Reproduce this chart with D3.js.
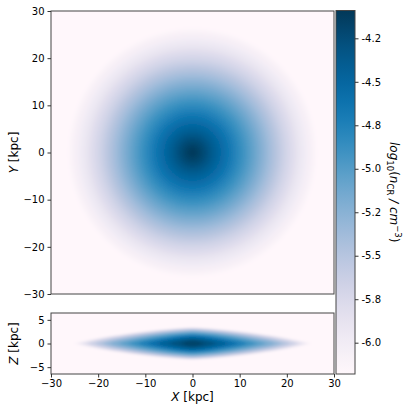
<!DOCTYPE html>
<html>
<head>
<meta charset="utf-8">
<script src="https://cdn.jsdelivr.net/npm/d3@7"></script>
<style>
body { margin: 0; background: #fff; }
svg text { font-family: "DejaVu Sans", sans-serif; fill: #000; }
</style>
</head>
<body>
<script>
// X-Y projection: log10 density read along the radius (kpc), outer to inner
var radiusKpc = [26, 25, 24, 23, 22, 21, 20, 19, 18, 17, 16, 15, 14, 13, 12, 11, 10, 9, 8, 7, 6, 5, 4, 3, 2, 1];
var logDensXY = [-6.10, -6.04, -5.97, -5.90, -5.82, -5.74, -5.66, -5.57, -5.48, -5.39, -5.30, -5.21, -5.12, -5.04, -4.96, -4.88, -4.80, -4.72, -4.64, -4.56, -4.48, -4.40, -4.32, -4.24, -4.17, -4.11];

// X-Z projection: nested iso-levels of the disk, half extents in kpc
var diskLevels = [-6.10, -5.95, -5.80, -5.65, -5.50, -5.35, -5.20, -5.05, -4.90, -4.75, -4.60, -4.45, -4.30, -4.18];
var diskHalfX  = [25.0, 24.0, 23.0, 22.0, 20.5, 19.0, 17.5, 15.5, 13.5, 11.5, 9.5, 7.5, 5.0, 2.5];
var diskHalfZ  = [3.5, 3.4, 3.3, 3.15, 3.0, 2.8, 2.6, 2.4, 2.15, 1.9, 1.65, 1.35, 1.0, 0.6];

var xTicks = [-30, -20, -10, 0, 10, 20, 30];
var yTicks = [-30, -20, -10, 0, 10, 20, 30];
var zTicks = [-5, 0, 5];
var cbTicks = [-6.0, -5.75, -5.5, -5.25, -5.0, -4.75, -4.5, -4.25];
var cbLabels = ["-6.0", "-5.8", "-5.5", "-5.2", "-5.0", "-4.8", "-4.5", "-4.2"];
var cMin = -6.18, cMax = -4.09;

var width = 407, height = 410;
var left = 51, right = 334;
var topY = 11, topB = 294;
var botY = 313, botB = 374;
var cb = {x0: 336, x1: 355, y0: 10.5, y1: 374};

var color = d3.scaleSequential(d3.interpolatePuBu).domain([cMin, cMax]);

var svg = d3.select("body").append("svg")
    .attr("width", width).attr("height", height);
var defs = svg.append("defs");

var x = d3.scaleLinear().domain([-30, 30]).range([left, right]);
var y = d3.scaleLinear().domain([-30, 30]).range([topB, topY]);
var z = d3.scaleLinear().domain([-6.45, 6.45]).range([botB, botY]);

defs.append("clipPath").attr("id", "clipTop")
  .append("rect").attr("x", left).attr("y", topY).attr("width", right - left).attr("height", topB - topY);
defs.append("clipPath").attr("id", "clipBot")
  .append("rect").attr("x", left).attr("y", botY).attr("width", right - left).attr("height", botB - botY);
defs.append("filter").attr("id", "blurTop")
  .append("feGaussianBlur").attr("stdDeviation", 2.2);
defs.append("filter").attr("id", "blurBot")
  .append("feGaussianBlur").attr("stdDeviation", "2 1");

// top panel
var topG = svg.append("g").attr("clip-path", "url(#clipTop)")
  .append("g").attr("filter", "url(#blurTop)");
topG.append("rect")
    .attr("x", left - 20).attr("y", topY - 20)
    .attr("width", right - left + 40).attr("height", topB - topY + 40)
    .attr("fill", color(cMin));
topG.selectAll("circle").data(radiusKpc).enter()
  .append("circle")
    .attr("cx", x(0)).attr("cy", y(0))
    .attr("r", function(d) { return x(d) - x(0); })
    .attr("fill", function(d, i) { return color(logDensXY[i]); });

// bottom panel
var lens = function(a, b) {
  var pts = [];
  for (var k = 0; k < 96; k++) {
    var t = k / 96 * 2 * Math.PI, c = Math.cos(t), s = Math.sin(t);
    pts.push([x(Math.sign(c) * a * Math.pow(Math.abs(c), 1.5)),
              z(Math.sign(s) * b * Math.pow(Math.abs(s), 1.5))]);
  }
  return d3.line().curve(d3.curveLinearClosed)(pts);
};
var botG = svg.append("g").attr("clip-path", "url(#clipBot)")
  .append("g").attr("filter", "url(#blurBot)");
botG.append("rect")
    .attr("x", left - 20).attr("y", botY - 20)
    .attr("width", right - left + 40).attr("height", botB - botY + 40)
    .attr("fill", color(cMin));
botG.selectAll("path").data(diskLevels).enter()
  .append("path")
    .attr("d", function(d, i) { return lens(diskHalfX[i], diskHalfZ[i]); })
    .attr("fill", function(d) { return color(d); });

// frames
[[topY, topB], [botY, botB]].forEach(function(p) {
  svg.append("rect")
    .attr("x", left).attr("y", p[0]).attr("width", right - left).attr("height", p[1] - p[0])
    .attr("fill", "none").attr("stroke", "#444").attr("stroke-width", 1);
});

var minus = function(v) { return String(v).replace("-", "\u2212"); };
function styleAxis(g) {
  g.select(".domain").remove();
  g.selectAll(".tick line").attr("stroke", "#333");
  g.selectAll(".tick text").style("font-size", "10px");
}

svg.append("g").attr("transform", "translate(" + left + ",0)")
  .call(d3.axisLeft(y).tickValues(yTicks).tickSize(3.5).tickPadding(3).tickFormat(minus))
  .call(styleAxis);
svg.append("g").attr("transform", "translate(" + left + ",0)")
  .call(d3.axisLeft(z).tickValues(zTicks).tickSize(3.5).tickPadding(3).tickFormat(minus))
  .call(styleAxis);
svg.append("g").attr("transform", "translate(0," + botB + ")")
  .call(d3.axisBottom(x).tickValues(xTicks).tickSize(3.5).tickPadding(2).tickFormat(minus))
  .call(styleAxis);

// axis labels
function label(txt, tx, ty, rot) {
  var t = svg.append("text")
    .attr("transform", "translate(" + tx + "," + ty + ")" + (rot ? " rotate(" + rot + ")" : ""))
    .attr("text-anchor", "middle").style("font-size", "12px");
  t.append("tspan").style("font-style", "italic").text(txt);
  t.append("tspan").text(" [kpc]");
}
label("X", (left + right) / 2, 401, 0);
label("Y", 18, (topY + topB) / 2, -90);
label("Z", 18, (botY + botB) / 2, -90);

// colorbar
var grad = defs.append("linearGradient").attr("id", "cbGrad")
  .attr("x1", 0).attr("y1", 1).attr("x2", 0).attr("y2", 0);
d3.range(0, 1.0001, 0.05).forEach(function(t) {
  grad.append("stop").attr("offset", t).attr("stop-color", d3.interpolatePuBu(t));
});
svg.append("rect")
  .attr("x", cb.x0).attr("y", cb.y0).attr("width", cb.x1 - cb.x0).attr("height", cb.y1 - cb.y0)
  .attr("fill", "url(#cbGrad)").attr("stroke", "#444").attr("stroke-width", 1);

var cbScale = d3.scaleLinear().domain([cMin, cMax]).range([cb.y1, cb.y0]);
svg.append("g").attr("transform", "translate(" + cb.x1 + ",0)")
  .call(d3.axisRight(cbScale).tickValues(cbTicks).tickSize(3.5).tickPadding(3)
    .tickFormat(function(d, i) { return cbLabels[i]; }))
  .call(styleAxis);

var cbl = svg.append("text")
  .attr("transform", "translate(390," + ((cb.y0 + cb.y1) / 2) + ") rotate(90)")
  .attr("text-anchor", "middle").style("font-size", "12px");
cbl.append("tspan").style("font-style", "italic").text("log");
cbl.append("tspan").attr("dy", 3).style("font-size", "8.5px").text("10");
cbl.append("tspan").attr("dy", -3).text("(");
cbl.append("tspan").style("font-style", "italic").text("n");
cbl.append("tspan").attr("dy", 3).style("font-size", "8.5px").text("CR");
cbl.append("tspan").attr("dy", -3).style("font-style", "italic").text(" / cm");
cbl.append("tspan").attr("dy", -5).style("font-size", "8.5px").text("\u22123");
cbl.append("tspan").attr("dy", 5).text(")");
</script>
</body>
</html>
